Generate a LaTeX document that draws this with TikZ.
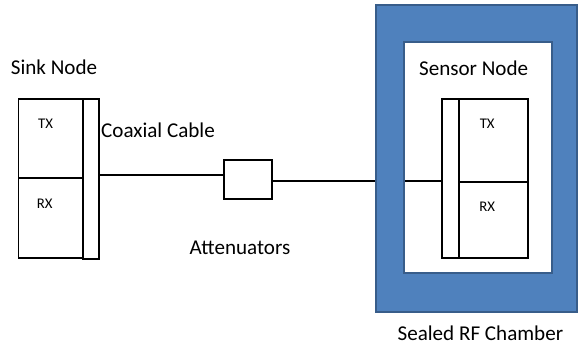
\documentclass[tikz,border=0pt]{standalone}
\usepackage{fontspec}
\setmainfont{Carlito}
\usepackage{tikz}
\usetikzlibrary{positioning}
\definecolor{chblue}{HTML}{4F81BD}
\definecolor{chedge}{HTML}{385D8A}

\begin{document}
\begin{tikzpicture}[
    lbl/.style={font=\fontsize{15}{18}\selectfont},
    small/.style={font=\fontsize{10.5}{12}\selectfont},
    cell/.style={draw, line width=1.1pt, inner sep=0pt, anchor=north west}]
        \useasboundingbox (0,0) rectangle (14.45,8.7);
        % Sink node
        \node[cell, minimum width=1.61cm, minimum height=1.975cm] (sinktx) at (0.44,6.25) {};
        \node[cell, minimum width=1.61cm, minimum height=2.0cm] (sinkrx) at (0.44,4.275) {};
        \node[cell, minimum width=0.4cm, minimum height=4.0cm] (sinkbar) at (2.05,6.25) {};
        \node[small] (sinktxl) at (1.14,5.6) {TX};
        \node[small] (sinkrxl) at (1.12,3.6) {RX};
        \node[lbl] (sinkl) at (1.35,7.03) {Sink Node};
        % Cable and attenuator
        \node[lbl] (coax) at (3.95,5.45) {Coaxial Cable};
        \node[draw, line width=1.1pt, minimum width=1.2cm, minimum height=0.975cm] (att) at (6.2,4.21) {};
        \node[lbl] (attl) at (6.0,2.5) {Attenuators};
        % Sensor node
        \node[cell, minimum width=0.425cm, minimum height=3.975cm] (sensbar) at (11.025,6.25) {};
        \node[cell, minimum width=1.725cm, minimum height=2.075cm] (senstx) at (11.45,6.25) {};
        \node[cell, minimum width=1.725cm, minimum height=1.9cm] (sensrx) at (11.45,4.175) {};
        \node[small] (senstxl) at (12.18,5.6) {TX};
        \node[small] (sensrxl) at (12.18,3.525) {RX};
        % Connections
        \draw[line width=1.2pt] (sinkbar.east |- 0,4.33) -- (att.west |- 0,4.33);
        \draw[line width=1.2pt] (att.east |- 0,4.17) -- (sensbar.west |- 0,4.17);
        % Chamber
        \filldraw[fill=chblue, draw=chedge, line width=1.6pt, even odd rule]
            (9.4,0.9) rectangle (14.425,8.575) (10.1,1.875) rectangle (13.8,7.65);
        \node[lbl] (sensl) at (11.84,7.0) {Sensor Node};
        \node[lbl] (chamberl) at (12.01,0.38) {Sealed RF Chamber};
\end{tikzpicture}
\end{document}
